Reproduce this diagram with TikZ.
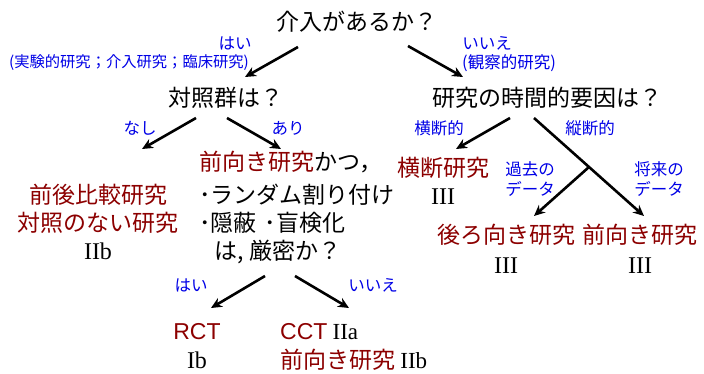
\documentclass[tikz,border=0pt]{standalone}
\usepackage{fontspec}
\setmainfont{Noto Sans CJK JP}
\newfontfamily\rom{Liberation Serif}
\newfontfamily\lat{Liberation Sans}
\usetikzlibrary{arrows.meta}
\definecolor{dred}{RGB}{140,0,0}
\definecolor{lblue}{RGB}{0,0,230}
\tikzset{
  x=1pt,y=-1pt,
  main/.style={inner sep=0pt,font=\fontsize{23}{25}\selectfont},
  red/.style={main,text=dred},
  lab/.style={inner sep=0pt,text=lblue,font=\fontsize{16.5}{20}\selectfont},
  num/.style={inner sep=0pt,font=\fontsize{24}{26}\selectfont\rom},
  arr/.style={line width=2.6pt,-{Stealth[length=11pt,width=10pt]}},
}
\begin{document}
\begin{tikzpicture}
\useasboundingbox (0,0) rectangle (704,374);
% top
\node[main] (q1) at (357,22) {介入があるか？};
\node[lab] (yes1) at (235,43) {はい};
\node[lab,font=\fontsize{15.3}{18}\selectfont] (yes1b) at (129,63) {(実験的研究；介入研究；臨床研究)};
\node[lab] (no1) at (487,43) {いいえ};
\node[lab] (no1b) at (509,63) {(観察的研究)};
\coordinate (a1s) at (298,47); \coordinate (a1e) at (245,77);
\coordinate (a2s) at (408,46); \coordinate (a2e) at (463,77);
\draw[arr] (a1s) -- (a1e);
\draw[arr] (a2s) -- (a2e);
% level 2
\node[main] (q2) at (226,98) {対照群は？};
\node[main] (q3) at (547,98) {研究の時間的要因は？};
\node[lab] (nashi) at (140,128) {なし};
\node[lab] (ari) at (288,128) {あり};
\coordinate (b1s) at (196,118); \coordinate (b1e) at (142,149);
\coordinate (b2s) at (227,118); \coordinate (b2e) at (281,149);
\draw[arr] (b1s) -- (b1e);
\draw[arr] (b2s) -- (b2e);
\node[lab] (oudan) at (439,128) {横断的};
\node[lab] (juudan) at (590,128) {縦断的};
\coordinate (c1s) at (510,118); \coordinate (c1e) at (456,149);
\coordinate (c2s) at (534,118); \coordinate (c2e) at (644,216);
\coordinate (c3s) at (589,167); \coordinate (c3e) at (534,216);
\draw[arr] (c1s) -- (c1e);
\draw[arr] (c2s) -- (c2e);
\draw[arr] (c3s) -- (c3e);
% left branch
\node[red] (zengo) at (98,195) {前後比較研究};
\node[red] (taisho) at (98,223) {対照のない研究};
\node[num] (n1) at (98,251) {IIb};
% middle block
\node[main,anchor=west] (m1) at (199,162) {\textcolor{dred}{前向き研究}かつ，};
\node[main,anchor=west] (m2) at (199,195) {･ランダム割り付け};
\node[main,anchor=west] (m3) at (199,223) {･隠蔽\hspace{8pt}･盲検化};
\node[main,anchor=west] (m4) at (214,252) {は,\hspace{6pt}厳密か？};
\node[lab] (yes2) at (191,285) {はい};
\node[lab] (no2) at (373,285) {いいえ};
\coordinate (d1s) at (265,276); \coordinate (d1e) at (211,308);
\coordinate (d2s) at (295,276); \coordinate (d2e) at (349,308);
\draw[arr] (d1s) -- (d1e);
\draw[arr] (d2s) -- (d2e);
\node[red,font=\fontsize{23}{25}\selectfont\lat] (rct) at (197,332) {RCT};
\node[num] (n2) at (197,360) {Ib};
\node[main,anchor=west] (cct) at (280,332) {\textcolor{dred}{\lat CCT} {\rom IIa}};
\node[main,anchor=west] (mae2) at (280,360) {\textcolor{dred}{前向き研究} {\rom IIb}};
% right side
\node[red] (oudanK) at (443,168) {横断研究};
\node[num] (n3) at (443,197) {III};
\node[lab,align=center] (kako) at (530,179) {過去の\\データ};
\node[lab,align=center] (shorai) at (659,179) {将来の\\データ};
\node[red] (ushiro) at (506,235) {後ろ向き研究};
\node[num] (n4) at (506,266) {III};
\node[red] (mae) at (640,235) {前向き研究};
\node[num] (n5) at (640,266) {III};
\end{tikzpicture}
\end{document}
